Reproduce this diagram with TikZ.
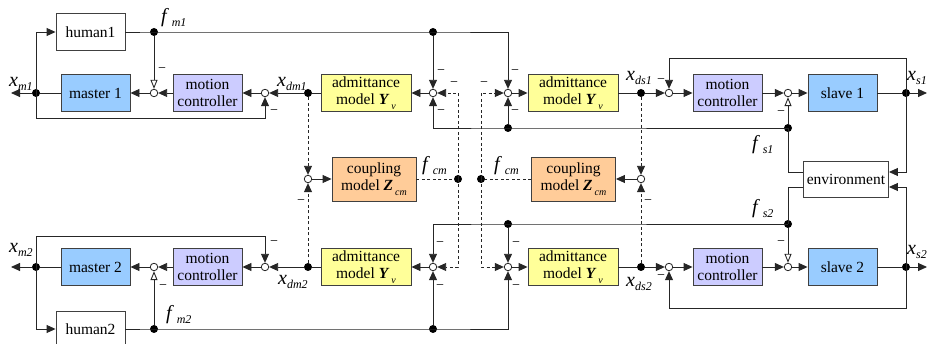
\documentclass[tikz,border=0pt]{standalone}
\usepackage{fontspec}
\setmainfont{Liberation Serif}
\usetikzlibrary{arrows.meta,calc}
\definecolor{cmast}{HTML}{99CCFF}
\definecolor{cmot}{HTML}{CCCCFF}
\definecolor{cadm}{HTML}{FFFF99}
\definecolor{ccpl}{HTML}{FFCC99}
\newcommand{\lbx}[3]{{\fontsize{20}{20}\selectfont\itshape #1}\hspace{#3}\raisebox{-4pt}{\fontsize{12}{12}\selectfont\itshape #2}}
\newcommand{\bsub}[2]{\textbf{\textit{#1}}\hspace{2pt}\raisebox{-5pt}{\fontsize{10}{10}\selectfont\itshape #2}}
\tikzset{
  blk/.style={draw=black!75, line width=0.9pt, minimum width=#1, minimum height=37pt,
    inner sep=0pt, align=center, font=\fontsize{15.5}{17}\selectfont},
  sj/.style={circle, draw=black!85, fill=white, inner sep=0pt, minimum size=7.5pt, line width=0.8pt},
  dot/.style={circle, fill=black, inner sep=0pt, minimum size=8pt},
  ln/.style={draw=black!85, line width=0.9pt},
  sig/.style={ln, -{Triangle[length=9pt,width=8pt]}},
  opn/.style={ln, -{Triangle[open,length=9pt,width=7pt,fill=white]}},
  dsh/.style={dash pattern=on 3pt off 2.5pt},
  mn/.style={font=\fontsize{14}{14}\selectfont, inner sep=0pt},
  lab/.style={anchor=base west, inner sep=0pt},
}
\begin{document}
\begin{tikzpicture}[x=1pt,y=-1pt]
\useasboundingbox (0,0) rectangle (927,344);
% ---------- blocks ----------
\node[blk=69pt] (h1) at (90.5,32) {human1};
\node[blk=69pt, fill=cmast] (m1) at (95.5,93) {master 1};
\node[blk=69pt, fill=cmot] (mc1) at (207.5,93) {motion\\controller};
\node[blk=90pt, fill=cadm] (a1) at (366,93) {admittance\\model \bsub{Y}{v}};
\node[blk=90pt, fill=cadm] (a2) at (573,93) {admittance\\model \bsub{Y}{v}};
\node[blk=69pt, fill=cmot] (mc2) at (727.5,93) {motion\\controller};
\node[blk=69pt, fill=cmast] (sl1) at (842.5,93) {slave 1};
\node[blk=84pt, fill=ccpl, minimum height=44pt] (cp1) at (374,179) {coupling\\model \bsub{Z}{cm}};
\node[blk=84pt, fill=ccpl, minimum height=44pt] (cp2) at (573.5,179) {coupling\\model \bsub{Z}{cm}};
\node[blk=85pt, minimum height=36pt] (env) at (846,179) {environment};
\node[blk=69pt, fill=cmast] (m2) at (95.5,267) {master 2};
\node[blk=69pt, fill=cmot] (mc3) at (207.5,267) {motion\\controller};
\node[blk=90pt, fill=cadm] (a3) at (366,267) {admittance\\model \bsub{Y}{v}};
\node[blk=90pt, fill=cadm] (a4) at (573,267) {admittance\\model \bsub{Y}{v}};
\node[blk=69pt, fill=cmot] (mc4) at (727.5,267) {motion\\controller};
\node[blk=69pt, fill=cmast] (sl2) at (842.5,267) {slave 2};
\node[blk=69pt, minimum height=36pt] (h2) at (90.5,329) {human2};
% ---------- summing junctions ----------
\node[sj] (s1) at (154,93) {};
\node[sj] (s2) at (265,93) {};
\node[sj] (s3) at (433,93) {};
\node[sj] (s4) at (508,93) {};
\node[sj] (s5) at (669,93) {};
\node[sj] (s6) at (788,93) {};
\node[sj] (sc1) at (308,179) {};
\node[sj] (sc2) at (641,179) {};
\node[sj] (t1) at (154,267) {};
\node[sj] (t2) at (265,267) {};
\node[sj] (t3) at (433,267) {};
\node[sj] (t4) at (508,267) {};
\node[sj] (t5) at (669,267) {};
\node[sj] (t6) at (788,267) {};
% ---------- branch dots ----------
\node[dot] (dxm1) at (36,93) {};
\node[dot] (dfm1) at (154,32) {};
\node[dot] (dxdm1) at (308,93) {};
\node[dot] (dtop) at (433,32) {};
\node[dot] (dfs1a) at (508,128) {};
\node[dot] (dfs1) at (788,128) {};
\node[dot] (dxds1) at (641,93) {};
\node[dot] (dxs1) at (906,93) {};
\node[dot] (dcm1) at (458,179) {};
\node[dot] (dcm2) at (481,179) {};
\node[dot] (dxm2) at (36,267) {};
\node[dot] (dfm2) at (154,329) {};
\node[dot] (dxdm2) at (308,267) {};
\node[dot] (dfm2b) at (433,329) {};
\node[dot] (dfs2a) at (508,224) {};
\node[dot] (dfs2) at (788,224) {};
\node[dot] (dxds2) at (641,267) {};
\node[dot] (dxs2) at (906,267) {};
\coordinate (oxm1) at (11,93);
\coordinate (oxs1) at (927,93);
\coordinate (oxm2) at (11,267);
\coordinate (oxs2) at (927,267);
% ---------- top row ----------
\draw[sig] (dxm1) -- (oxm1);
\draw[ln] (m1.west) -- (dxm1);
\draw[sig] (dxm1.center) |- (h1.west);
\draw[sig] (dxm1.center) -- ++(0,25) -| (s2);
\draw[sig] (h1.east) -- (dfm1.center) -- (dtop.center) -| (s4);
\draw[opn] (dfm1) -- (s1);
\draw[sig] (mc1.west) -- (s1);
\draw[sig] (s1) -- (m1.east);
\draw[sig] (s2) -- (mc1.east);
\draw[sig] (dxdm1) -- (s2);
\draw[ln] (a1.west) -- (dxdm1);
\draw[sig] (s3) -- (a1.east);
\draw[sig] (dtop) -- (s3);
\draw[sig] (dfs1.center) -- (dfs1a.center) -| (s3);
\draw[sig] (dfs1a) -- (s4);
\draw[opn] (dfs1) -- (s6);
\draw[sig] (s4) -- (a2.west);
\draw[ln] (a2.east) -- (dxds1);
\draw[sig] (dxds1) -- (s5);
\draw[sig] (s5) -- (mc2.west);
\draw[sig] (mc2.east) -- (s6);
\draw[sig] (s6) -- (sl1.west);
\draw[ln] (sl1.east) -- (dxs1);
\draw[sig] (dxs1) -- (oxs1);
\draw[sig] (dxs1.center) -- ++(0,-35) -| (s5);
\draw[sig] (dxs1.center) |- ([yshift=7pt]env.east);
\draw[ln] ([yshift=7pt]env.west) -| (dfs1.center);
\draw[ln] ([yshift=-8pt]env.west) -| (dfs2.center);
\draw[sig] (dxs2.center) |- ([yshift=-8pt]env.east);
% ---------- coupling ----------
\draw[sig,dsh] (dcm1.center) |- (s3);
\draw[sig,dsh] (dcm1.center) |- (t3);
\draw[sig,dsh] (dcm2.center) |- (s4);
\draw[sig,dsh] (dcm2.center) |- (t4);
\draw[ln,dsh] (cp1.east) -- (dcm1);
\draw[ln,dsh] (cp2.west) -- (dcm2);
\draw[sig,dsh] (dxdm1) -- (sc1);
\draw[sig,dsh] (dxdm2) -- (sc1);
\draw[sig] (sc1) -- (cp1.west);
\draw[sig] (sc2) -- (cp2.east);
\draw[sig,dsh] (dxds1) -- (sc2);
\draw[sig,dsh] (dxds2) -- (sc2);
% ---------- bottom row ----------
\draw[sig] (dxm2) -- (oxm2);
\draw[ln] (m2.west) -- (dxm2);
\draw[sig] (dxm2.center) |- (h2.west);
\draw[sig] (dxm2.center) -- ++(0,-31) -| (t2);
\draw[sig] (h2.east) -- (dfm2.center) -- (dfm2b.center) -| (t4);
\draw[opn] (dfm2) -- (t1);
\draw[sig] (mc3.west) -- (t1);
\draw[sig] (t1) -- (m2.east);
\draw[sig] (t2) -- (mc3.east);
\draw[sig] (dxdm2) -- (t2);
\draw[ln] (a3.west) -- (dxdm2);
\draw[sig] (t3) -- (a3.east);
\draw[sig] (dfm2b) -- (t3);
\draw[sig] (dfs2.center) -- (dfs2a.center) -| (t3);
\draw[sig] (dfs2a) -- (t4);
\draw[opn] (dfs2) -- (t6);
\draw[sig] (t4) -- (a4.west);
\draw[ln] (a4.east) -- (dxds2);
\draw[sig] (dxds2) -- (t5);
\draw[sig] (t5) -- (mc4.west);
\draw[sig] (mc4.east) -- (t6);
\draw[sig] (t6) -- (sl2.west);
\draw[ln] (sl2.east) -- (dxs2);
\draw[sig] (dxs2) -- (oxs2);
\draw[sig] (dxs2.center) -- ++(0,41) -| (t5);
% ---------- minus signs ----------
\foreach \p in {(162,70),(274,112),(441,72),(454,84),(441,112),(515,72),(484,84),(515,112),
  (661,81),(781,113),(301,202),(648,202),(163,287),(274,243),(440,244),(440,287),
  (516,244),(516,287),(661,277),(781,243)}
  \node[mn] at \p {−};
% ---------- signal labels ----------
\node[lab] (lxm1) at (9,87) {\lbx{x}{m1}{0pt}};
\node[lab] (lfm1) at (161,23) {\lbx{f}{m1}{5pt}};
\node[lab] (lxdm1) at (277,87) {\lbx{x}{dm1}{0pt}};
\node[lab] (lxds1) at (626,81) {\lbx{x}{ds1}{0pt}};
\node[lab] (lxs1) at (907,81) {\lbx{x}{s1}{0pt}};
\node[lab] (lfs1) at (752,150) {\lbx{f}{s1}{5pt}};
\node[lab] (lfcm1) at (422,171) {\lbx{f}{cm}{5pt}};
\node[lab] (lfcm2) at (494,171) {\lbx{f}{cm}{5pt}};
\node[lab] (lfs2) at (752,214) {\lbx{f}{s2}{5pt}};
\node[lab] (lxm2) at (9,253) {\lbx{x}{m2}{0pt}};
\node[lab] (lxdm2) at (278,285) {\lbx{x}{dm2}{0pt}};
\node[lab] (lxds2) at (626,287) {\lbx{x}{ds2}{0pt}};
\node[lab] (lxs2) at (907,255) {\lbx{x}{s2}{0pt}};
\node[lab] (lfm2) at (166,320) {\lbx{f}{m2}{5pt}};
\end{tikzpicture}
\end{document}
